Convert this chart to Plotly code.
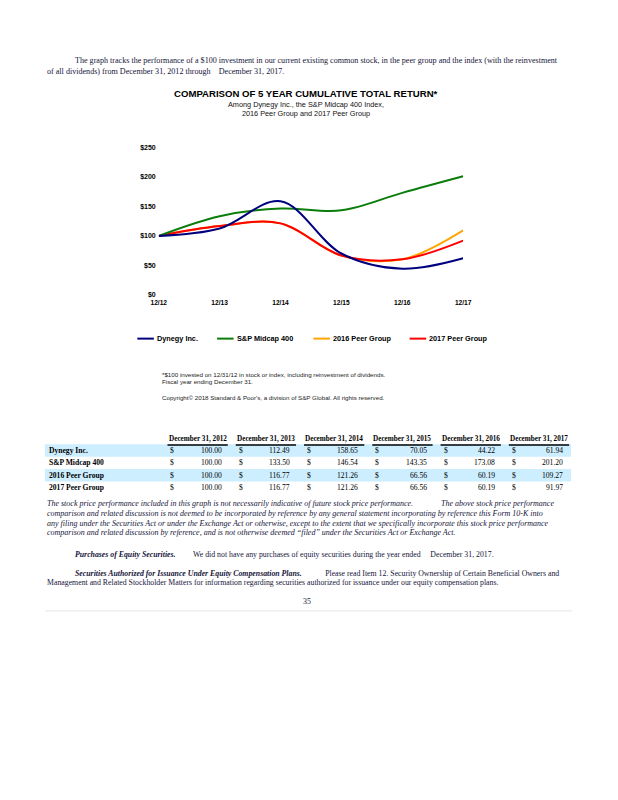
import plotly.graph_objects as go

W, H = 618, 800

# ---------------- data ----------------
periods = ["12/12", "12/13", "12/14", "12/15", "12/16", "12/17"]
dynegy = [100.00, 112.49, 158.65, 70.05, 44.22, 61.94]
sp_midcap = [100.00, 133.50, 146.54, 143.35, 173.08, 201.20]
peer_2016 = [100.00, 116.77, 121.26, 66.56, 60.19, 109.27]
peer_2017 = [100.00, 116.77, 121.26, 66.56, 60.19, 91.97]
series_names = ["Dynegy Inc.", "S&P Midcap 400", "2016 Peer Group", "2017 Peer Group"]
y_ticks = [0, 50, 100, 150, 200, 250]
y_tick_labels = ["$0", "$50", "$100", "$150", "$200", "$250"]
table_dates = ["December 31, 2012", "December 31, 2013", "December 31, 2014",
               "December 31, 2015", "December 31, 2016", "December 31, 2017"]

series_values = [dynegy, sp_midcap, peer_2016, peer_2017]
series_colors = ["#00007f", "#0b7d0b", "#ffa500", "#ff0000"]

TEXT = "#15153a"
SERIF = "Liberation Serif"
SANS = "Liberation Sans"
LM = 38      # left margin of document text
IND = 67     # first-line indent


def px(x):
    return x / W


def py(y):
    return 1 - y / H


fig = go.Figure()

# draw order: peer groups underneath
for idx in [2, 3, 1, 0]:
    fig.add_trace(go.Scatter(
        x=periods, y=series_values[idx], name=series_names[idx], mode="lines",
        line=dict(color=series_colors[idx], width=2, shape="spline", smoothing=1.0),
        showlegend=False, hoverinfo="skip"))

annotations = []
shapes = []


def txt(x, y, s, size, family=SERIF, color=TEXT, xanchor="left", bold=False, italic=False):
    annotations.append(dict(
        x=px(x), y=py(y), xref="paper", yref="paper", text=s, showarrow=False,
        xanchor=xanchor, yanchor="middle",
        font=dict(size=size, family=family, color=color,
                  weight="bold" if bold else "normal",
                  style="italic" if italic else "normal")))


NB = "\u00a0"

# ---------------- document text ----------------
txt(IND, 57, "The graph tracks the performance of a $100 investment in our current existing common stock, in the peer group and the index (with the reinvestment", 8.1)
txt(LM, 68, "of all dividends) from December 31, 2012 through" + NB * 4 + "December 31, 2017.", 8.1)

# chart titles
txt(306, 90.5, "COMPARISON OF 5 YEAR CUMULATIVE TOTAL RETURN*", 9.6, family=SANS, color="#000", xanchor="center", bold=True)
txt(306, 106, "Among Dynegy Inc., the S&P Midcap 400 Index,<br>2016 Peer Group and 2017 Peer Group",
    7.3, family=SANS, color="#111", xanchor="center")

# manual legend
legend_x = [133, 215, 314, 413]
for i in range(4):
    shapes.append(dict(type="line", xref="paper", yref="paper",
                       x0=px(legend_x[i]), x1=px(legend_x[i] + 17), y0=py(338), y1=py(338),
                       line=dict(color=series_colors[i], width=2)))
    txt(legend_x[i] + 18, 338, series_names[i], 7.3, family=SANS, color="#000", bold=True)

# chart footnotes
txt(156, 374, "*$100 invested on 12/31/12 in stock or index, including reinvestment of dividends.", 6.2, family=SANS, color="#222")
txt(156, 381, "Fiscal year ending December 31.", 6.2, family=SANS, color="#222")
txt(156, 397, "Copyright\u00a9 2018 Standard & Poor's, a division of S&P Global. All rights reserved.", 6.2, family=SANS, color="#222")

# ---------------- table ----------------
col_start = [164 + 70.2 * j for j in range(6)]
col_w = 62
row_y = [451, 463.5, 476, 488]
for j, d in enumerate(table_dates):
    txt(col_start[j] + col_w / 2, 439, d, 7.2, xanchor="center", bold=True, color="#000")
    shapes.append(dict(type="line", xref="paper", yref="paper",
                       x0=px(col_start[j]), x1=px(col_start[j] + col_w), y0=py(445.5), y1=py(445.5),
                       line=dict(color="#000", width=1.5)))
for i in [0, 2]:
    shapes.append(dict(type="rect", xref="paper", yref="paper", layer="below",
                       x0=px(LM), x1=px(579), y0=py(row_y[i] - 6.2), y1=py(row_y[i] + 6.2),
                       fillcolor="#cdeeff", line=dict(width=0)))
for i, name in enumerate(series_names):
    txt(LM + 2, row_y[i], name, 7.6, bold=True, color="#000")
    for j in range(6):
        txt(col_start[j] + 1, row_y[i], "$", 7.6, color="#000")
        txt(col_start[j] + 58, row_y[i], f"{series_values[i][j]:.2f}", 7.6, xanchor="right", color="#000")

# disclaimer (italic)
txt(LM, 505, "The stock price performance included in this graph is not necessarily indicative of future stock price performance." + NB * 14 + "The above stock price performance", 8.0, italic=True)
txt(LM, 515, "comparison and related discussion is not deemed to be incorporated by reference by any general statement incorporating by reference this Form 10-K into", 8.0, italic=True)
txt(LM, 524.5, "any filing under the Securities Act or under the Exchange Act or otherwise, except to the extent that we specifically incorporate this stock price performance", 8.0, italic=True)
txt(LM, 534, "comparison and related discussion by reference, and is not otherwise deemed \u201cfiled\u201d under the Securities Act or Exchange Act.", 8.0, italic=True)

txt(IND, 556, "<b><i>Purchases of Equity Securities.</i></b>" + NB * 9 + "We did not have any purchases of equity securities during the year ended" + NB * 5 + "December 31, 2017.", 7.8)
txt(IND, 575, "<b><i>Securities Authorized for Issuance Under Equity Compensation Plans.</i></b>" + NB * 12 + "Please read Item 12. Security Ownership of Certain Beneficial Owners and", 7.8)
txt(LM, 584, "Management and Related Stockholder Matters for information regarding securities authorized for issuance under our equity compensation plans.", 7.8)
txt(307, 604, "35", 7.8, xanchor="center")

shapes.append(dict(type="line", xref="paper", yref="paper",
                   x0=px(LM), x1=px(580), y0=py(613), y1=py(613),
                   line=dict(color="#e6e6e6", width=1)))

# ---------------- layout ----------------
fig.update_layout(
    width=W, height=H,
    margin=dict(l=0, r=0, t=0, b=0),
    paper_bgcolor="white", plot_bgcolor="white",
    showlegend=False,
    annotations=annotations,
    shapes=shapes,
    xaxis=dict(domain=[px(155), px(468)], range=[0, 5], type="category",
               showgrid=False, zeroline=False, showline=False, ticks="",
               ticklabelstandoff=3,
               tickfont=dict(family=SANS, size=6.6, color="#000", weight="bold"),
               fixedrange=True),
    yaxis=dict(domain=[py(293.7), py(145)], range=[0, 250],
               tickvals=y_ticks, ticktext=y_tick_labels,
               showgrid=False, zeroline=False, showline=False, ticks="",
               ticklabelstandoff=2,
               tickfont=dict(family=SANS, size=7, color="#000", weight="bold"),
               fixedrange=True),
)

fig.write_html("out.html", config={"displayModeBar": False},
               post_script="document.body.style.margin='0px';")
